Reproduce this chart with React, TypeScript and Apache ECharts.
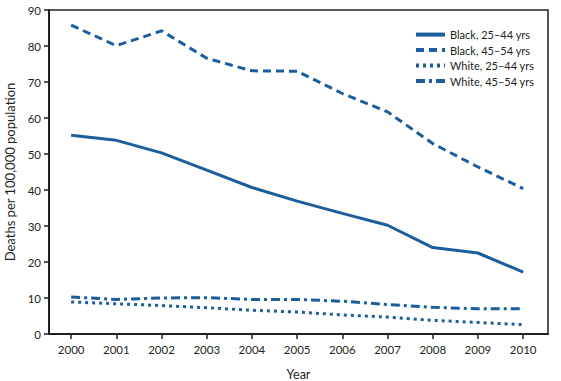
import React, { useEffect, useRef } from "react";
import * as echarts from "echarts";

const years = [2000, 2001, 2002, 2003, 2004, 2005, 2006, 2007, 2008, 2009, 2010];
const black2544 = [55.2, 53.8, 50.3, 45.5, 40.7, 36.9, 33.5, 30.2, 24.0, 22.5, 17.2];
const black4554 = [85.8, 80.1, 84.2, 76.6, 73.1, 73.0, 66.8, 61.7, 52.9, 46.4, 40.4];
const white2544 = [8.9, 8.4, 7.9, 7.3, 6.6, 6.1, 5.3, 4.7, 3.8, 3.2, 2.6];
const white4554 = [10.3, 9.6, 10.0, 10.1, 9.6, 9.6, 9.1, 8.2, 7.4, 7.0, 7.0];
const seriesNames = ["Black, 25\u201344 yrs", "Black, 45\u201354 yrs", "White, 25\u201344 yrs", "White, 45\u201354 yrs"];
const yTicks = [0, 10, 20, 30, 40, 50, 60, 70, 80, 90];

const BLUE = "#1c5d9c";
const INK = "#231f20";
const FONT = "Lato, sans-serif";

export default function App() {
  const ref = useRef<HTMLDivElement>(null);
  useEffect(() => {
    if (!ref.current) return;
    const chart = echarts.init(ref.current, undefined, { renderer: "svg" });
    const mk = (vals: number[]) => years.map((y, i) => [y, vals[i]]);
    const dashes: any[] = ["solid", [8, 5], [3, 4], [9, 4, 3, 4]];
    const all = [black2544, black4554, white2544, white4554];
    chart.setOption({
      animation: false,
      textStyle: { fontFamily: FONT },
      grid: {
        left: 49,
        right: 13,
        top: 10,
        bottom: 47,
        outerBoundsMode: "none",
        containLabel: false,
        show: true,
        borderColor: INK,
        borderWidth: 1.5,
      },
      legend: {
        orient: "vertical",
        left: 409,
        top: 24,
        itemWidth: 29,
        itemHeight: 14,
        itemGap: 4.3,
        itemStyle: { opacity: 0 },
        lineStyle: { width: 4 },
        textStyle: { fontFamily: FONT, fontSize: 11, color: INK },
        data: seriesNames,
      },
      xAxis: {
        type: "value",
        min: 1999.51,
        max: 2010.55,
        name: "Year",
        nameLocation: "middle",
        nameGap: 34,
        nameTextStyle: { fontFamily: FONT, fontSize: 12.5, color: INK },
        axisLine: { lineStyle: { color: INK, width: 2 } },
        axisTick: { show: true, length: 5, lineStyle: { color: INK, width: 1.5 }, customValues: years },
        axisLabel: {
          customValues: years,
          fontFamily: FONT,
          fontSize: 11.5,
          color: INK,
          margin: 9,
          formatter: (v: number) => String(Math.round(v)),
        },
        splitLine: { show: false },
      },
      yAxis: {
        type: "value",
        min: 0,
        max: 90,
        interval: 10,
        name: "Deaths per 100,000 population",
        nameLocation: "middle",
        nameGap: 33,
        nameTextStyle: { fontFamily: FONT, fontSize: 13, color: INK },
        axisLine: { show: true, lineStyle: { color: INK, width: 2 } },
        axisTick: { show: true, length: 5, lineStyle: { color: INK, width: 1.5 } },
        axisLabel: {
          customValues: yTicks,
          fontFamily: FONT,
          fontSize: 11.5,
          color: INK,
          margin: 8,
        },
        splitLine: { show: false },
      },
      series: seriesNames.map((n, i) => ({
        name: n,
        type: "line",
        data: mk(all[i]),
        symbol: "none",
        color: BLUE,
        lineStyle: { color: BLUE, width: 3, type: dashes[i] },
      })),
    });
    return () => chart.dispose();
  }, []);
  return <div ref={ref} style={{ width: 561, height: 381, position: "absolute", left: 0, top: 0 }} />;
}
